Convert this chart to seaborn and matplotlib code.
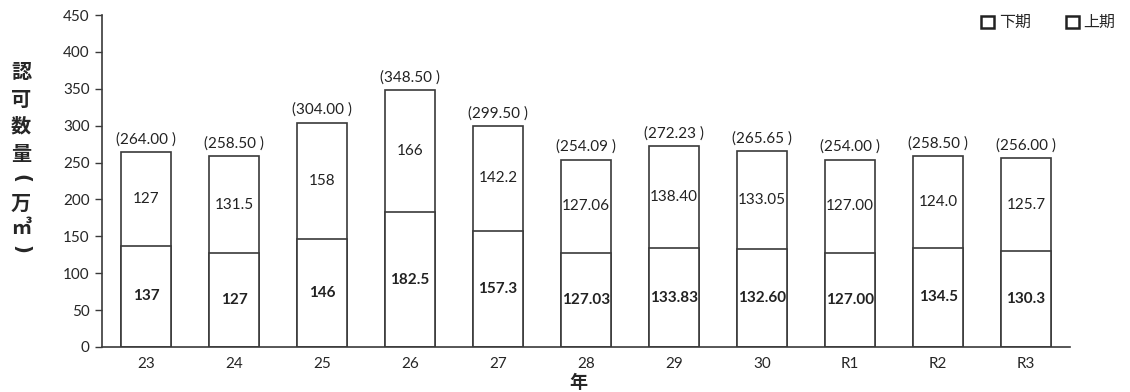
import matplotlib
matplotlib.use("Agg")
import matplotlib.pyplot as plt
import seaborn as sns
import pandas as pd
from matplotlib.patches import Patch

years = ["23", "24", "25", "26", "27", "28", "29", "30", "R1", "R2", "R3"]
lower = [137, 127, 146, 182.5, 157.3, 127.03, 133.83, 132.60, 127.00, 134.5, 130.3]
upper = [127, 131.5, 158, 166, 142.2, 127.06, 138.40, 133.05, 127.00, 124.0, 125.7]
lower_labels = ["137", "127", "146", "182.5", "157.3", "127.03", "133.83", "132.60", "127.00", "134.5", "130.3"]
upper_labels = ["127", "131.5", "158", "166", "142.2", "127.06", "138.40", "133.05", "127.00", "124.0", "125.7"]
total_labels = ["(264.00 )", "(258.50 )", "(304.00 )", "(348.50 )", "(299.50 )", "(254.09 )",
                "(272.23 )", "(265.65 )", "(254.00 )", "(258.50 )", "(256.00 )"]
ylabel_chars = ["認", "可", "数", "量", "(", "万", "㎥", ")"]

sns.set_style("white")
plt.rcParams['font.family'] = ['Lato', 'Noto Sans CJK JP', 'DejaVu Sans']
cjk = ['Noto Sans CJK JP', 'DejaVu Sans']

df = pd.DataFrame({"year": years, "lower": lower, "upper": upper})
df["total"] = df["lower"] + df["upper"]

W, H = 1130, 392
fig = plt.figure(figsize=(W / 100, H / 100), dpi=100)
ax = fig.add_axes([0.0903, 0.1148, 0.8567, 0.8469])

edge = "#3a3a3a"
sns.barplot(data=df, x="year", y="total", color="white", edgecolor=edge, linewidth=1.2,
            width=0.56, ax=ax, saturation=1)
sns.barplot(data=df, x="year", y="lower", color="white", edgecolor=edge, linewidth=1.2,
            width=0.56, ax=ax, saturation=1)

for i in range(len(years)):
    ax.text(i, lower[i] / 2, lower_labels[i], ha="center", va="center", fontsize=11,
            fontweight="bold", color="#222222")
    ax.text(i, lower[i] + upper[i] / 2, upper_labels[i], ha="center", va="center",
            fontsize=11, color="#222222")
    ax.annotate(total_labels[i], (i, lower[i] + upper[i]), xytext=(0, 4),
                textcoords="offset points", ha="center", va="bottom", fontsize=11,
                color="#222222")

ax.set_xlim(-0.5, 10.5)
ax.set_ylim(0, 450)
ax.set_yticks(range(0, 451, 50))
ax.tick_params(axis="y", left=True, length=5, width=1, color=edge, labelsize=11, pad=4)
ax.tick_params(axis="x", bottom=False, labelsize=11, pad=4)
for s in ["top", "right"]:
    ax.spines[s].set_visible(False)
for s in ["left", "bottom"]:
    ax.spines[s].set_color(edge)
    ax.spines[s].set_linewidth(1.2)

ax.set_xlabel("")
ax.set_ylabel("")
fig.text(578 / W, 1 - 383 / H, "年", ha="center", va="center", fontsize=13,
         fontweight="bold", family=cjk)

# vertical y-axis title, one character per line
ypix = [72, 99, 126, 153, 178, 203, 228, 249]
for ch, yp in zip(ylabel_chars, ypix):
    if ch in "()":
        fig.text(21 / W, 1 - yp / H, ch, ha="center", va="center", fontsize=14,
                 fontweight="bold", rotation=-90, family=['DejaVu Sans'])
    else:
        fig.text(21 / W, 1 - yp / H, ch, ha="center", va="center", fontsize=14.5,
                 fontweight="bold", family=cjk)

handles = [Patch(facecolor="white", edgecolor="#222222", linewidth=1.8, label="下期"),
           Patch(facecolor="white", edgecolor="#222222", linewidth=1.8, label="上期")]
fig.legend(handles=handles, loc="upper right", bbox_to_anchor=(1.0, 1.0), ncol=2,
           frameon=False, handlelength=0.8, handleheight=0.8,
           handletextpad=0.3, columnspacing=2.2,
           prop={'family': cjk, 'size': 11.5})

fig.savefig("out.png", dpi=100, facecolor="white")
